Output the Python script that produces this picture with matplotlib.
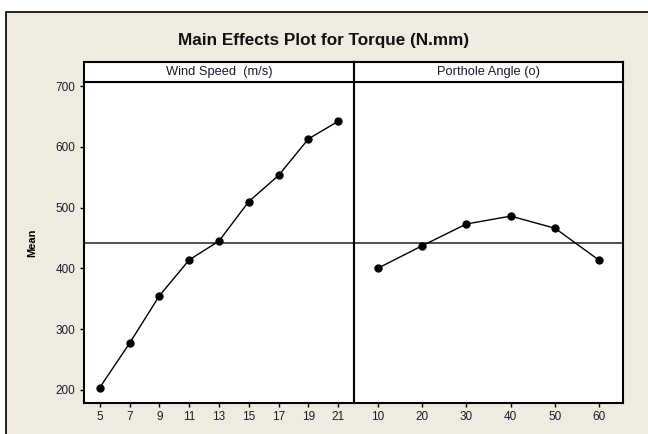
import matplotlib
matplotlib.use("Agg")
import matplotlib.pyplot as plt
from matplotlib.patches import Rectangle

plt.rcParams['font.family'] = ['Liberation Sans', 'DejaVu Sans']

# data
wind_speed = [5, 7, 9, 11, 13, 15, 17, 19, 21]
wind_mean = [204, 277, 355, 414, 445, 510, 553, 613, 642]
angle = [10, 20, 30, 40, 50, 60]
angle_mean = [400, 437, 473, 486, 466, 413]
grand_mean = 442
y_ticks = [200, 300, 400, 500, 600, 700]
panel_titles = ["Wind Speed  (m/s)", "Porthole Angle (o)"]

W, H = 648, 434
fig = plt.figure(figsize=(W / 100, H / 100), dpi=100)
fig.patch.set_facecolor('white')
bg = '#efebe1'

# outer frame of the minitab graph window
fig.patches.append(Rectangle((6 / W, -0.1), 1.2, 1 - 11.5 / H + 0.1,
                             transform=fig.transFigure, facecolor=bg,
                             edgecolor='black', lw=1.2, zorder=-10))

fig.text(324 / W, 1 - 40 / H, "Main Effects Plot for Torque (N.mm)",
         ha='center', va='center', fontsize=12.3, fontweight='bold', color='#111111')

left, mid, right = 84 / W, 354 / W, 623 / W
bottom, top, strip_top = 1 - 403 / H, 1 - 82 / H, 1 - 62 / H

panels = [(wind_speed, wind_mean), (angle, angle_mean)]
xs = [(left, mid), (mid, right)]
for i, ((levels, means), (x0, x1)) in enumerate(zip(panels, xs)):
    ax = fig.add_axes([x0, bottom, x1 - x0, top - bottom])
    ax.set_facecolor('white')
    pos = list(range(len(levels)))
    ax.axhline(grand_mean, color='#222222', lw=1.1, zorder=1)
    ax.plot(pos, means, color='black', lw=1.0, marker='o', markersize=5, zorder=3)
    ax.set_xlim(-0.53, len(levels) - 0.47)
    ax.set_ylim(178.6, 706.6)
    ax.set_xticks(pos)
    ax.set_xticklabels([str(v) for v in levels])
    ax.set_yticks(y_ticks)
    ax.tick_params(direction='out', length=3, width=1, color='black',
                   labelsize=8.5, labelcolor='#1c1c2c', pad=3)
    if i == 0:
        ax.set_ylabel("Mean", fontsize=8, fontweight='bold', labelpad=13)
    else:
        ax.tick_params(axis='y', left=False, labelleft=False)
    for s in ax.spines.values():
        s.set_linewidth(1.5)
        s.set_color('black')

    sax = fig.add_axes([x0, top, x1 - x0, strip_top - top])
    sax.set_facecolor('white')
    sax.set_xticks([])
    sax.set_yticks([])
    for s in sax.spines.values():
        s.set_linewidth(1.5)
    sax.text(0.5, 0.5, panel_titles[i], ha='center', va='center',
             fontsize=9.3, color='#1c1c2c', transform=sax.transAxes)

fig.savefig("out.png", dpi=100, facecolor=fig.get_facecolor())
